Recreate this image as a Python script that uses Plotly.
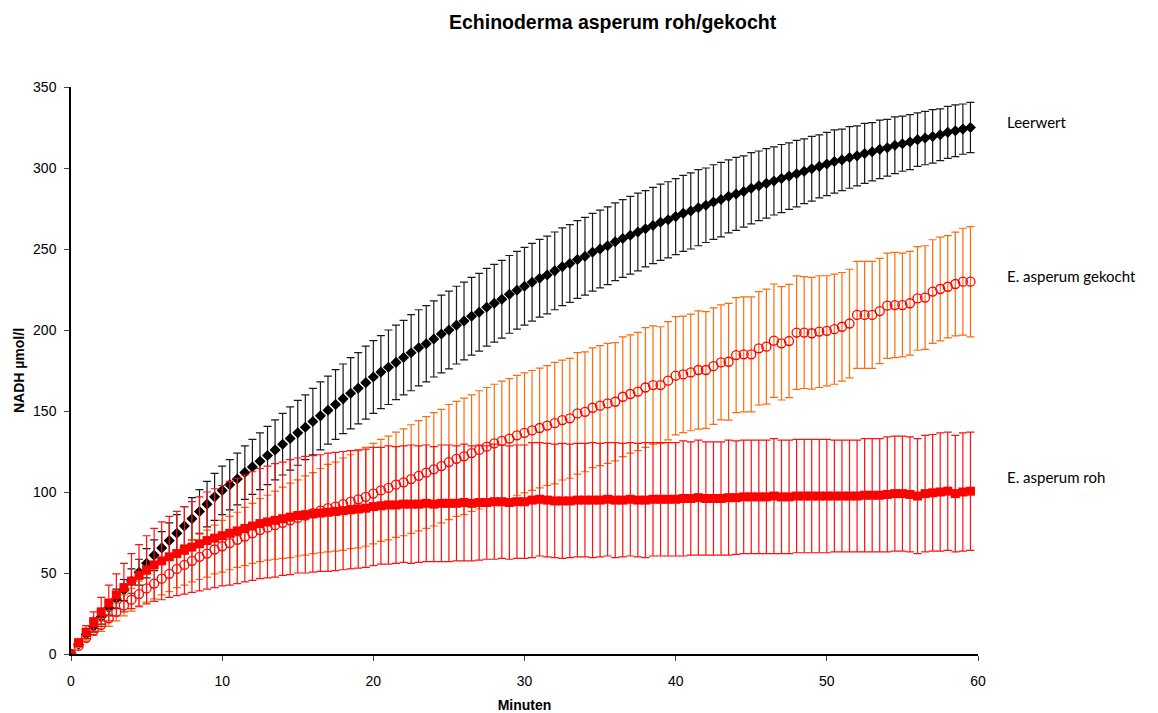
import numpy as np
import plotly.graph_objects as go

# time points (minutes)
t = list(np.arange(0, 60, 0.5))

leerwert_mean = [0, 6, 12, 17, 23, 28.5, 34, 39.5, 45, 50.5,
 56, 61, 65.5, 70, 74.5, 79, 83.5, 88, 92.5, 97,
 101, 104.5, 108, 112, 115.5, 119, 122.5, 126, 129.5, 133,
 136.5, 140, 143.5, 147, 150.5, 154, 157.5, 161, 164, 167.5,
 171, 174, 177, 180, 183, 186, 189, 191.5, 194.5, 197.5,
 200, 203, 205.5, 208.5, 211, 214, 216.5, 219, 222, 224.5,
 227, 229.5, 232, 234, 236.5, 239, 241, 243.5, 245.5, 248,
 250, 252, 254.5, 256.5, 258.5, 260.5, 262.5, 264.5, 266.5, 268,
 270, 272, 273.5, 275.5, 277, 279, 280.5, 282.5, 284, 285.5,
 287.5, 289, 290.5, 292, 293.5, 295, 296.5, 298, 299.5, 301,
 302.5, 304, 305, 306.5, 307.5, 309, 310, 311.5, 312.5, 314,
 315, 316, 317.5, 318.5, 319.5, 320.5, 322, 323, 324, 325]

leerwert_err = [0, 1.5, 2.5, 3.5, 4.5, 5, 6, 6.5, 7.5, 8,
 9, 9.5, 10, 11, 11.5, 12, 13, 13.5, 14, 14.5,
 15, 15.5, 16, 16.5, 17, 17.5, 18, 18.5, 19, 19.5,
 20, 20, 20.5, 21, 21, 21.5, 21.5, 22, 22, 22.5,
 22.5, 22.5, 23, 23, 23, 23.5, 23.5, 23.5, 23.5, 24,
 24, 24, 24, 24, 24, 24, 24, 24, 24, 24,
 24, 24, 24, 24, 24, 24, 24, 24, 24, 24,
 24, 24, 24, 24, 24, 24, 23.5, 23.5, 23.5, 23.5,
 23.5, 23.5, 23.5, 23.5, 23, 23, 23, 22.5, 22.5, 22,
 22, 21.5, 21.5, 21, 21, 20.5, 20.5, 20, 20, 19.5,
 19.5, 19.5, 19, 19, 18.5, 18.5, 18, 18, 17.5, 17.5,
 17, 17, 16.5, 16.5, 16.5, 16, 16, 16, 15.5, 15.5]

gekocht_mean = [0, 5, 10, 14.5, 18, 22, 26, 30, 33.5, 37,
 40.5, 43.5, 46.5, 49.5, 52.5, 55, 57.5, 60, 62, 64.5,
 66.5, 68.5, 70.5, 72.5, 74.5, 76.5, 78, 79.5, 81, 82.5,
 84, 85.5, 87, 88.5, 90, 91, 92.5, 94, 95.5, 97,
 99, 101, 102.5, 104.5, 106, 108, 110, 112, 114, 116,
 118.5, 120.5, 122, 124, 126, 128, 130, 131.5, 133, 135,
 136.5, 138, 139.5, 141, 142.5, 144.4, 145.5, 148.5, 149.5, 152,
 153.3, 154.7, 155.7, 158.8, 160.5, 162, 164.5, 166, 166, 168.7,
 171.8, 172.6, 173.8, 175.3, 175.3, 177.7, 180, 180.4, 184.5, 185,
 185, 188.7, 189.7, 193.4, 191.8, 193.2, 198.4, 198.4, 198, 199,
 199.5, 200.5, 202, 204, 209.3, 209.3, 209.3, 211.7, 215, 215.4,
 215.4, 216.5, 219.5, 220, 223.7, 225.3, 226.7, 228.4, 229.8, 229.8]

gekocht_err = [0, 1, 2, 3, 4, 5, 5.5, 6.5, 7, 8,
 8.5, 9.5, 10, 11, 11.5, 12.5, 13, 14, 14.5, 15,
 16, 16.5, 17, 18, 18.5, 19.5, 20, 21, 22, 23,
 23.5, 24.5, 25, 26, 27, 27.5, 28.5, 29, 30, 30.5,
 31, 31.5, 32, 32.5, 33, 33.5, 34, 34.5, 35, 35,
 35.5, 35.5, 36, 36, 36.5, 36.5, 36.5, 37, 37, 37,
 37, 37, 37, 37, 37.5, 37, 37, 37.5, 37, 37,
 37, 37, 36.5, 37, 36.5, 36.5, 37, 36.5, 36, 36.5,
 36.5, 36, 36, 36.5, 36, 36, 35.5, 36, 35.5, 35.5,
 35.5, 35, 35.5, 35, 35, 35, 35, 34.5, 34.5, 34.5,
 34, 34, 33.5, 33.5, 33, 33, 33, 32.5, 32.5, 32.5,
 32, 32, 32, 32, 32, 32, 31.5, 32, 33, 34]

roh_mean = [0, 7, 13.5, 20, 26, 31.5, 36.5, 41, 45, 48.5,
 52, 55, 57.5, 60, 62, 64, 66, 68, 70, 71.5,
 73, 74.5, 76, 77.5, 79, 80.5, 81.5, 82.5, 83.5, 84.5,
 85.5, 86, 86.5, 87, 87.5, 88, 88.5, 89, 89.5, 90,
 91, 91.5, 92, 92, 92.5, 92.5, 92.5, 93, 92.5, 93,
 93, 93, 93.5, 93, 93.5, 93.5, 94, 94, 93.5, 94,
 94, 95, 95.5, 95, 94.5, 94.5, 94.5, 95, 95, 95,
 95, 95.5, 95, 95, 95.5, 95, 95, 95.5, 95.5, 95.5,
 95.5, 96, 96, 96.5, 96, 96, 96, 96.5, 96.5, 97,
 97, 97, 97, 97.5, 97, 97, 97.5, 97.5, 97.5, 97.5,
 97.5, 97.5, 97.5, 97.5, 97.5, 98, 98, 98, 98.5, 99,
 99, 98.5, 97.5, 99, 99.5, 100, 100.5, 99, 100, 100.5]

roh_err = [0, 2, 4, 6, 9, 11, 13, 15, 17, 19,
 21, 22.5, 24, 25, 26, 27, 28, 29, 30, 30.5,
 31, 32, 32.5, 33, 33.5, 34, 34.5, 35, 35, 35.5,
 35.5, 36, 36, 36, 36.5, 36.5, 36.5, 36.5, 36.5, 36.5,
 36.5, 36, 36.5, 36, 36, 36.5, 36, 36, 35.5, 36,
 36, 35.5, 36, 35.5, 35.5, 35, 35.5, 35, 35, 35,
 35, 35.5, 35, 35, 35, 35.5, 35, 35, 35, 35.5,
 35, 35, 35.5, 35, 35, 35, 35.5, 35, 35, 35,
 35, 35.5, 35, 35.5, 35, 35, 35, 35.5, 35, 35,
 35, 35, 35, 35.5, 35, 35, 35, 35, 35, 35,
 35, 34.5, 34.5, 34.5, 34.5, 35, 35, 35, 35.5, 35.5,
 35.5, 35.5, 35.5, 36, 36, 36.5, 36.5, 36, 36.5, 36.5]

series_labels = ["Leerwert", "E. asperum gekocht", "E. asperum roh"]
x_ticks = [0, 10, 20, 30, 40, 50, 60]
y_ticks = [0, 50, 100, 150, 200, 250, 300, 350]

fig = go.Figure()

fig.add_trace(go.Scatter(
    x=t, y=leerwert_mean, mode="markers", name=series_labels[0],
    marker=dict(symbol="diamond", size=8.5, color="black"),
    error_y=dict(type="data", array=leerwert_err, visible=True,
                 color="#1a1a1a", thickness=1.2, width=4),
))
fig.add_trace(go.Scatter(
    x=t, y=gekocht_mean, mode="markers", name=series_labels[1],
    marker=dict(symbol="circle-open", size=9, color="#ff0000",
                line=dict(width=1.3, color="#ff0000")),
    error_y=dict(type="data", array=gekocht_err, visible=True,
                 color="#ff6a0a", thickness=1.2, width=4),
))
fig.add_trace(go.Scatter(
    x=t, y=roh_mean, mode="markers", name=series_labels[2],
    marker=dict(symbol="square", size=9, color="#ff0000"),
    error_y=dict(type="data", array=roh_err, visible=True,
                 color="#ff1010", thickness=1.2, width=4),
))

# series labels to the right of the plot (paper coordinates)
label_pos = [0.938, 0.667, 0.312]
for lab, yy in zip(series_labels, label_pos):
    fig.add_annotation(x=1.0298, y=yy, xref="paper", yref="paper", text=lab,
                       showarrow=False, xanchor="left", yanchor="middle",
                       font=dict(family="Lato, Open Sans, sans-serif", size=15, color="black"))

fig.update_layout(
    width=1158, height=713,
    margin=dict(l=71, r=180, t=87, b=59),
    paper_bgcolor="white", plot_bgcolor="white",
    showlegend=False,
    title=dict(text="<b>Echinoderma asperum roh/gekocht</b>", x=0.529, xanchor="center",
               y=0.969, yanchor="middle", xref="container", yref="container",
               font=dict(family="Liberation Sans, Arial, sans-serif", size=19.5, color="black")),
    font=dict(family="Liberation Sans, Arial, sans-serif", size=14, color="black"),
)
fig.update_xaxes(range=[0, 60], tickvals=x_ticks, ticks="outside", ticklen=5,
                 showline=True, linecolor="black", linewidth=1.5, showgrid=False,
                 zeroline=False, tickfont=dict(size=14), ticklabelstandoff=8,
                 automargin=False,
                 title=dict(text="<b>Minuten</b>", font=dict(size=14), standoff=18))
fig.update_yaxes(range=[0, 350], tickvals=y_ticks, ticks="outside", ticklen=5,
                 showline=True, linecolor="black", linewidth=1.5, showgrid=False,
                 zeroline=False, tickfont=dict(size=14), ticklabelstandoff=5,
                 automargin=False,
                 title=dict(text="<b>NADH µmol/l</b>", font=dict(size=14), standoff=5))

fig.write_html("out.html")
